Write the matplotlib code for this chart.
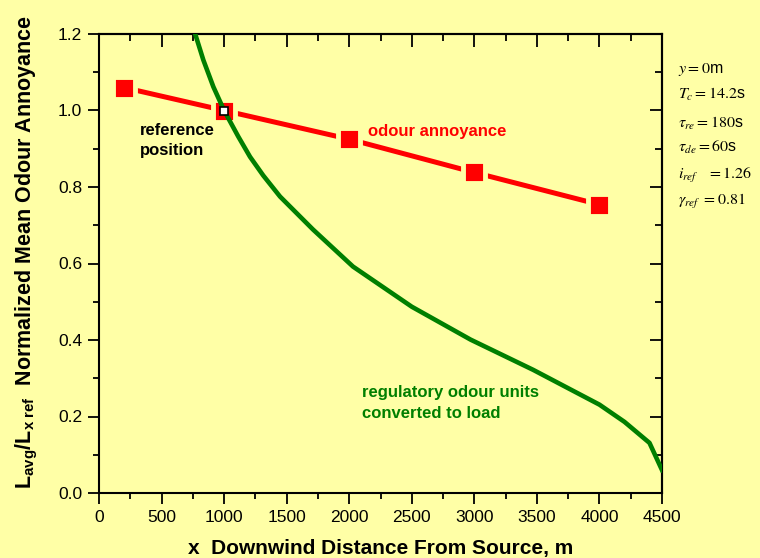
import matplotlib
matplotlib.use("Agg")
import matplotlib.pyplot as plt
from matplotlib.ticker import MultipleLocator

BG = "#FFFFA6"
RED = "#FF0000"
GREEN = "#007F00"

# odour annoyance (normalized)
annoy_x = [200, 1000, 2000, 3000, 4000]
annoy_y = [1.06, 1.0, 0.925, 0.838, 0.754]
ref_x = [1000]
ref_y = [1.0]

# regulatory odour units converted to load
load_x = [767, 834, 914, 1000, 1113, 1207, 1313, 1447, 1710, 2030, 2500,
          2970, 3470, 4000, 4200, 4400, 4500]
load_y = [1.202, 1.132, 1.062, 1.0, 0.932, 0.879, 0.830, 0.775, 0.689, 0.592,
          0.487, 0.401, 0.322, 0.231, 0.186, 0.131, 0.06]

params = [
    r"$y = 0$m",
    r"$T_c = 14.2$s",
    r"$\tau_{re} = 180$s",
    r"$\tau_{de} = 60$s",
    r"$i_{ref}\ \ \ = 1.26$",
    r"$\gamma_{ref}\ = 0.81$",
]
param_y = [70, 94, 123, 147, 176, 202]

plt.rcParams["font.family"] = ["Liberation Sans", "DejaVu Sans"]
plt.rcParams["mathtext.fontset"] = "custom"
plt.rcParams["mathtext.rm"] = "Liberation Sans"
plt.rcParams["mathtext.bf"] = "Liberation Sans:bold"
plt.rcParams["mathtext.it"] = "Liberation Sans:italic"

W, H = 760, 558
fig = plt.figure(figsize=(W / 100, H / 100), dpi=100, facecolor=BG)
ax = fig.add_axes([99 / W, 1 - 493 / H, (662 - 99) / W, (493 - 34) / H])
ax.set_facecolor(BG)

ax.plot(annoy_x, annoy_y, color=RED, lw=3.6, solid_capstyle="butt", zorder=2)
ax.plot(annoy_x, annoy_y, ls="", marker="s", ms=15.5, mfc=RED,
        mec=BG, mew=3.5, zorder=3)
ax.plot(load_x, load_y, color=GREEN, lw=3.3, solid_joinstyle="round", zorder=4)
ax.plot(ref_x, ref_y, ls="", marker="s", ms=6, mfc="white", mec="black",
        mew=1.2, zorder=5)

ax.set_xlim(0, 4500)
ax.set_ylim(0, 1.2)
ax.xaxis.set_major_locator(MultipleLocator(500))
ax.xaxis.set_minor_locator(MultipleLocator(250))
ax.yaxis.set_major_locator(MultipleLocator(0.2))
ax.yaxis.set_minor_locator(MultipleLocator(0.1))
ax.yaxis.set_major_formatter(plt.FormatStrFormatter("%.1f"))
ax.tick_params(which="major", direction="out", length=8, width=1.3, labelsize=12.5, pad=4)
ax.tick_params(which="minor", direction="out", length=4, width=1.3)
for s in ax.spines.values():
    s.set_linewidth(1.5)

# top/right ticks point inward, no labels
top = ax.secondary_xaxis("top")
top.xaxis.set_major_locator(MultipleLocator(500))
top.xaxis.set_minor_locator(MultipleLocator(250))
top.tick_params(which="major", direction="in", length=9, width=1.3, labeltop=False)
top.tick_params(which="minor", direction="in", length=5, width=1.3)
top.spines["top"].set_linewidth(1.5)
right = ax.secondary_yaxis("right")
right.yaxis.set_major_locator(MultipleLocator(0.2))
right.yaxis.set_minor_locator(MultipleLocator(0.1))
right.tick_params(which="major", direction="in", length=9, width=1.3, labelright=False)
right.tick_params(which="minor", direction="in", length=5, width=1.3)
right.spines["right"].set_linewidth(1.5)

ax.set_xlabel("x  Downwind Distance From Source, m", fontsize=15,
              fontweight="bold", labelpad=10)
ax.set_ylabel(r"$\mathbf{L_{avg}/L_{x\ ref}}$  Normalized Mean Odour Annoyance",
              fontsize=15.5, fontweight="bold")
ax.yaxis.set_label_coords(-0.104, 0.525)

ax.text(330, 0.922, "reference\nposition", fontsize=12, fontweight="bold",
        color="black", linespacing=1.45, va="center")
ax.text(2150, 0.946, "odour annoyance", fontsize=12, fontweight="bold",
        color=RED, va="center")
ax.text(2100, 0.235, "regulatory odour units\nconverted to load", fontsize=12,
        fontweight="bold", color=GREEN, linespacing=1.45, va="center")

for s, py in zip(params, param_y):
    fig.text(678 / W, 1 - py / H, s, fontsize=11.5, va="center", ha="left",
             math_fontfamily="stix")

fig.savefig("out.png", dpi=100, facecolor=BG)
